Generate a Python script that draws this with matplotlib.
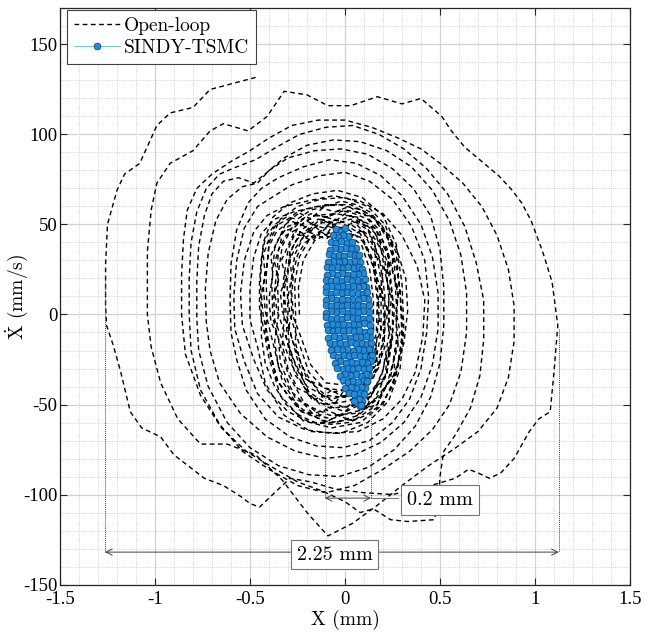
import matplotlib
matplotlib.use("Agg")
import matplotlib.pyplot as plt
from matplotlib.ticker import MultipleLocator

plt.rcParams["mathtext.fontset"] = "cm"
plt.rcParams["axes.unicode_minus"] = False

# Open-loop phase trajectory (X in mm, Xdot in mm/s), one ring per line,
# clockwise, growing from the noisy inner band out to the last wide swing.
OPEN_LOOP = [
    (-0.24, 0), (-0.245, 15), (-0.22, 30), (-0.16, 41), (-0.07, 46), (0.02, 45), (0.09, 38), (0.13, 25), (0.15, 8), (0.15, -9), (0.12, -23), (0.06, -33), (-0.02, -39), (-0.1, -38), (-0.18, -28), (-0.23, -13),
    (-0.27, -2), (-0.28, 11), (-0.27, 24), (-0.25, 33), (-0.21, 40), (-0.15, 44), (-0.1, 42), (-0.04, 46), (0.02, 45), (0.08, 43), (0.12, 36), (0.15, 27), (0.17, 15), (0.18, 2), (0.17, -11), (0.16, -22), (0.12, -31), (0.07, -37), (0.01, -42), (-0.06, -43), (-0.12, -40), (-0.18, -37), (-0.23, -28), (-0.26, -16),
    (-0.26, 1), (-0.265, 17), (-0.24, 32), (-0.18, 43), (-0.09, 49), (0.01, 48), (0.1, 40), (0.15, 26), (0.17, 8), (0.165, -10), (0.13, -26), (0.07, -37), (-0.02, -42), (-0.11, -41), (-0.19, -32), (-0.245, -15),
    (-0.29, 0), (-0.3, 10), (-0.28, 21), (-0.29, 31), (-0.26, 37), (-0.22, 43), (-0.17, 41), (-0.13, 46), (-0.07, 42), (-0.02, 48), (0.04, 44), (0.09, 47), (0.13, 39), (0.16, 33), (0.16, 22), (0.19, 14), (0.17, 3), (0.19, -8), (0.16, -17), (0.17, -27), (0.13, -33), (0.09, -41), (0.04, -40), (-0.01, -46), (-0.07, -42), (-0.12, -46), (-0.17, -38), (-0.22, -35), (-0.25, -25), (-0.28, -13),
    (-0.31, 1), (-0.32, 13), (-0.3, 26), (-0.29, 35), (-0.25, 42), (-0.2, 46), (-0.14, 44), (-0.09, 49), (-0.03, 47), (0.03, 50), (0.09, 46), (0.14, 40), (0.17, 31), (0.19, 19), (0.2, 6), (0.21, -7), (0.19, -19), (0.17, -29), (0.12, -37), (0.06, -43), (0.0, -45), (-0.07, -47), (-0.13, -44), (-0.2, -40), (-0.25, -31), (-0.29, -20), (-0.3, -8),
    (-0.28, -1), (-0.285, 16), (-0.265, 33), (-0.21, 45), (-0.12, 51), (-0.02, 51), (0.08, 45), (0.15, 30), (0.19, 10), (0.19, -10), (0.16, -27), (0.09, -40), (0.0, -46), (-0.1, -45), (-0.2, -36), (-0.26, -19),
    (-0.33, 2), (-0.34, 12), (-0.31, 20), (-0.335, 30), (-0.3, 38), (-0.27, 45), (-0.2, 43), (-0.16, 49), (-0.1, 44), (-0.06, 50), (0.0, 47), (0.04, 52), (0.1, 46), (0.15, 42), (0.17, 33), (0.2, 26), (0.19, 14), (0.22, 4), (0.2, -6), (0.21, -18), (0.18, -27), (0.15, -35), (0.1, -38), (0.06, -45), (-0.01, -43), (-0.05, -49), (-0.12, -45), (-0.17, -48), (-0.22, -39), (-0.26, -34), (-0.29, -22), (-0.31, -12),
    (-0.3, 1), (-0.305, 19), (-0.285, 35), (-0.23, 47), (-0.14, 53), (-0.06, 50), (0.03, 53), (0.12, 47), (0.18, 32), (0.21, 11), (0.21, -11), (0.18, -29), (0.11, -42), (0.02, -48), (-0.09, -50), (-0.19, -43), (-0.27, -25),
    (-0.36, 3), (-0.37, 14), (-0.355, 27), (-0.35, 36), (-0.31, 44), (-0.26, 47), (-0.22, 45), (-0.17, 50), (-0.11, 48), (-0.05, 53), (0.02, 50), (0.08, 52), (0.14, 45), (0.19, 36), (0.21, 24), (0.235, 12), (0.22, -2), (0.24, -14), (0.21, -26), (0.19, -35), (0.13, -44), (0.07, -47), (0.0, -52), (-0.06, -49), (-0.13, -50), (-0.19, -44), (-0.25, -41), (-0.3, -30), (-0.33, -17),
    (-0.32, -1), (-0.325, 18), (-0.3, 36), (-0.25, 48), (-0.16, 55), (-0.05, 56), (0.07, 54), (0.16, 45), (0.21, 30), (0.23, 10), (0.23, -12), (0.2, -31), (0.14, -45), (0.04, -51), (-0.08, -52), (-0.19, -45), (-0.28, -28),
    (-0.37, -3), (-0.375, 10), (-0.35, 19), (-0.37, 29), (-0.34, 39), (-0.33, 46), (-0.27, 48), (-0.22, 53), (-0.15, 49), (-0.1, 54), (-0.03, 52), (0.03, 55), (0.09, 50), (0.16, 48), (0.19, 40), (0.23, 33), (0.22, 20), (0.245, 9), (0.23, -3), (0.25, -13), (0.22, -25), (0.21, -36), (0.15, -42), (0.12, -50), (0.04, -50), (0.0, -54), (-0.08, -51), (-0.13, -56), (-0.2, -50), (-0.26, -47), (-0.3, -37), (-0.34, -27), (-0.35, -13),
    (-0.39, -4), (-0.4, 9), (-0.38, 22), (-0.39, 33), (-0.35, 42), (-0.3, 49), (-0.24, 51), (-0.19, 47), (-0.13, 53), (-0.06, 51), (0.0, 56), (0.07, 53), (0.13, 50), (0.18, 41), (0.22, 30), (0.24, 16), (0.26, 3), (0.25, -11), (0.23, -22), (0.22, -33), (0.16, -41), (0.11, -49), (0.04, -52), (-0.03, -56), (-0.1, -53), (-0.17, -55), (-0.24, -47), (-0.29, -42), (-0.35, -29), (-0.37, -15),
    (-0.35, 0), (-0.355, 20), (-0.33, 38), (-0.27, 50), (-0.18, 56), (-0.1, 54), (0.0, 58), (0.1, 56), (0.18, 47), (0.23, 31), (0.25, 10), (0.25, -13), (0.22, -33), (0.15, -48), (0.05, -55), (-0.08, -56), (-0.21, -50), (-0.3, -33),
    (-0.38, -2), (-0.385, 18), (-0.37, 37), (-0.31, 51), (-0.22, 58), (-0.1, 61), (0.03, 61), (0.14, 55), (0.22, 44), (0.26, 28), (0.27, 6), (0.27, -15), (0.24, -35), (0.17, -50), (0.06, -58), (-0.08, -60), (-0.23, -54), (-0.33, -37),
    (-0.42, 2), (-0.43, 16), (-0.41, 28), (-0.4, 38), (-0.36, 46), (-0.29, 52), (-0.23, 50), (-0.16, 55), (-0.09, 54), (-0.03, 58), (0.05, 56), (0.12, 53), (0.17, 46), (0.22, 37), (0.25, 24), (0.28, 11), (0.27, -3), (0.28, -17), (0.25, -28), (0.22, -39), (0.16, -47), (0.09, -53), (0.01, -55), (-0.07, -58), (-0.15, -56), (-0.22, -53), (-0.29, -46), (-0.35, -38), (-0.39, -24), (-0.41, -10),
    (-0.43, -1), (-0.44, 11), (-0.42, 22), (-0.43, 33), (-0.4, 42), (-0.37, 49), (-0.3, 53), (-0.25, 57), (-0.18, 53), (-0.12, 59), (-0.05, 57), (0.02, 60), (0.08, 56), (0.15, 54), (0.2, 46), (0.25, 38), (0.25, 25), (0.28, 14), (0.27, 1), (0.29, -10), (0.26, -22), (0.26, -34), (0.2, -42), (0.17, -50), (0.09, -53), (0.04, -59), (-0.04, -56), (-0.1, -60), (-0.17, -56), (-0.24, -53), (-0.3, -45), (-0.36, -36), (-0.39, -22), (-0.42, -10),
    (-0.41, 0), (-0.415, 21), (-0.4, 40), (-0.34, 53), (-0.25, 60), (-0.13, 64), (0.0, 65), (0.12, 60), (0.21, 50), (0.27, 34), (0.29, 12), (0.3, -12), (0.27, -33), (0.2, -50), (0.08, -60), (-0.07, -63), (-0.22, -59), (-0.34, -45), (-0.4, -24),
    (-0.45, 4), (-0.45, 18), (-0.44, 31), (-0.42, 42), (-0.37, 50), (-0.31, 54), (-0.25, 53), (-0.18, 58), (-0.1, 60), (-0.02, 63), (0.06, 61), (0.13, 57), (0.19, 50), (0.24, 40), (0.27, 27), (0.29, 13), (0.3, -1), (0.3, -15), (0.28, -28), (0.25, -40), (0.19, -50), (0.11, -56), (0.02, -60), (-0.07, -61), (-0.16, -60), (-0.24, -56), (-0.31, -50), (-0.37, -40), (-0.42, -27), (-0.44, -12),
    (-0.44, -2), (-0.445, 20), (-0.43, 40), (-0.38, 54), (-0.29, 62), (-0.17, 67), (-0.04, 69), (0.09, 65), (0.2, 55), (0.27, 39), (0.3, 17), (0.31, -8), (0.29, -30), (0.23, -48), (0.12, -60), (-0.02, -66), (-0.18, -65), (-0.32, -56), (-0.42, -38), (-0.46, -18),
    (-0.5, -3), (-0.5, 15), (-0.48, 32), (-0.44, 45), (-0.37, 53), (-0.27, 57), (-0.15, 60), (-0.03, 61), (0.09, 58), (0.19, 50), (0.27, 37), (0.32, 20), (0.33, 2), (0.31, -16), (0.26, -33), (0.18, -46), (0.07, -56), (-0.05, -60), (-0.18, -60), (-0.3, -54), (-0.41, -42), (-0.48, -25),
    (-0.54, -6), (-0.55, 12), (-0.53, 30), (-0.48, 46), (-0.41, 55), (-0.32, 60), (-0.2, 63), (-0.06, 66), (0.08, 63), (0.2, 56), (0.3, 44), (0.38, 27), (0.42, 8), (0.41, -12), (0.37, -32), (0.3, -47), (0.2, -58), (0.07, -65), (-0.07, -66), (-0.21, -64), (-0.35, -57), (-0.46, -44), (-0.53, -26),
    (-0.58, -8), (-0.585, 10), (-0.57, 30), (-0.53, 48), (-0.46, 60), (-0.37, 66), (-0.28, 72), (-0.14, 77), (0.0, 79), (0.13, 74), (0.25, 64), (0.35, 49), (0.42, 30), (0.44, 10), (0.43, -10), (0.4, -30), (0.34, -47), (0.25, -60), (0.13, -70), (-0.01, -74), (-0.15, -73), (-0.29, -68), (-0.42, -58), (-0.52, -42), (-0.57, -25),
    (-0.6, -10), (-0.605, 8), (-0.6, 28), (-0.57, 47), (-0.51, 62), (-0.44, 70), (-0.35, 76), (-0.22, 82), (-0.08, 86), (0.06, 84), (0.19, 77), (0.3, 66), (0.4, 50), (0.46, 32), (0.49, 12), (0.49, -8), (0.46, -28), (0.4, -46), (0.31, -60), (0.19, -71), (0.05, -78), (-0.1, -80), (-0.26, -76), (-0.41, -68), (-0.55, -55), (-0.66, -38), (-0.71, -20),
    (-0.73, -4), (-0.735, 14), (-0.72, 34), (-0.68, 52), (-0.62, 64), (-0.54, 71), (-0.46, 73), (-0.4, 80), (-0.3, 87), (-0.16, 91), (-0.02, 92), (0.12, 89), (0.25, 81), (0.36, 70), (0.45, 55), (0.5, 36), (0.52, 15), (0.52, -6), (0.5, -27), (0.45, -46), (0.37, -62), (0.26, -75), (0.12, -85), (-0.03, -90), (-0.19, -89), (-0.35, -84), (-0.5, -74), (-0.62, -60), (-0.72, -40), (-0.77, -20),
    (-0.78, -2), (-0.78, 18), (-0.77, 38), (-0.74, 55), (-0.7, 67), (-0.64, 74), (-0.56, 76), (-0.48, 73), (-0.41, 79), (-0.32, 87), (-0.2, 94), (-0.06, 97), (0.08, 96), (0.22, 91), (0.35, 82), (0.46, 69), (0.55, 52), (0.61, 33), (0.64, 12), (0.64, -10), (0.61, -32), (0.55, -50), (0.46, -64), (0.34, -76), (0.2, -86), (0.05, -95), (-0.1, -99), (-0.25, -95), (-0.4, -86), (-0.54, -76), (-0.66, -61), (-0.76, -42), (-0.81, -20),
    (-0.82, 0), (-0.82, 20), (-0.81, 40), (-0.78, 57), (-0.73, 70), (-0.66, 78), (-0.57, 82), (-0.47, 86), (-0.36, 93), (-0.24, 100), (-0.1, 104), (0.04, 105), (0.18, 100), (0.31, 92), (0.43, 81), (0.54, 67), (0.63, 49), (0.69, 29), (0.73, 8), (0.73, -14), (0.71, -34), (0.66, -52), (0.58, -67), (0.52, -76), (0.5, -90), (0.49, -106), (0.47, -114), (0.33, -115), (0.24, -114), (0.15, -108), (0.08, -110), (0.0, -104), (-0.12, -98), (-0.25, -93), (-0.38, -85), (-0.52, -76), (-0.65, -63), (-0.76, -45), (-0.84, -22),
    (-0.86, 0), (-0.86, 22), (-0.85, 42), (-0.83, 58), (-0.78, 70), (-0.7, 78), (-0.6, 85), (-0.5, 91), (-0.4, 98), (-0.28, 105), (-0.14, 108), (0.0, 108), (0.14, 104), (0.28, 98), (0.4, 92), (0.5, 84), (0.62, 73), (0.72, 60), (0.8, 44), (0.86, 25), (0.89, 5), (0.89, -15), (0.86, -35), (0.8, -52), (0.7, -65), (0.57, -75), (0.44, -84), (0.3, -95), (0.17, -106), (0.04, -116), (-0.09, -123), (-0.2, -110), (-0.33, -92), (-0.47, -78), (-0.62, -72), (-0.76, -72), (-0.88, -58), (-0.97, -38), (-1.02, -18),
    (-1.04, 0), (-1.04, 35), (-1.02, 58), (-0.99, 73), (-0.92, 84), (-0.8, 91), (-0.71, 102), (-0.64, 106), (-0.51, 102), (-0.41, 110), (-0.32, 124), (-0.2, 122), (-0.09, 116), (0.03, 116), (0.17, 121), (0.3, 117), (0.4, 120), (0.51, 110), (0.56, 102), (0.63, 93), (0.72, 85), (0.81, 77), (0.88, 69), (0.93, 62), (0.98, 52), (1.04, 35), (1.09, 18), (1.12, -6), (1.1, -32), (1.08, -54), (1.02, -58), (0.97, -65), (0.89, -80), (0.82, -88), (0.76, -91), (0.7, -88), (0.65, -86), (0.58, -91), (0.42, -96), (0.25, -100), (0.1, -99), (-0.05, -97), (-0.18, -93), (-0.29, -91), (-0.38, -100), (-0.45, -107), (-0.5, -105), (-0.55, -101), (-0.64, -95), (-0.74, -91), (-0.9, -78), (-0.97, -68), (-1.07, -63), (-1.13, -54), (-1.18, -32), (-1.22, -17), (-1.255, -6),
    (-1.26, 5), (-1.26, 28), (-1.25, 50), (-1.2, 69), (-1.16, 78), (-1.08, 84), (-0.99, 105), (-0.92, 112), (-0.8, 115), (-0.71, 125), (-0.46, 132),
]

# Controlled (SINDY-TSMC) samples, packed in a narrow tilted band.
SINDY_TSMC = [
    (-0.046, 47.3), (-0.021, 46.6), (0.001, 47.8),
    (0.018, 43.4), (-0.01, 44.2), (-0.037, 43.1), (-0.062, 43.9),
    (-0.073, 40.4), (-0.047, 39.6), (-0.019, 40.7), (0.009, 39.8), (0.036, 40.3),
    (0.057, 36.8), (0.03, 36.2), (0.002, 37.0), (-0.026, 36.3), (-0.054, 36.9), (-0.08, 36.1),
    (-0.085, 33.4), (-0.059, 32.6), (-0.031, 33.3), (-0.003, 32.7), (0.025, 33.5), (0.052, 32.8), (0.072, 33.2),
    (0.078, 29.3), (0.05, 29.7), (0.022, 29.0), (-0.006, 29.8), (-0.034, 29.2), (-0.062, 29.9), (-0.089, 29.1),
    (-0.093, 26.4), (-0.067, 25.7), (-0.039, 26.3), (-0.011, 25.6), (0.017, 26.5), (0.045, 25.8), (0.073, 26.2), (0.089, 25.5),
    (0.096, 22.9), (0.069, 22.3), (0.041, 22.7), (0.013, 22.0), (-0.015, 22.8), (-0.043, 22.2), (-0.07, 22.9), (-0.097, 22.1),
    (-0.099, 19.4), (-0.073, 18.6), (-0.045, 19.3), (-0.017, 18.7), (0.011, 19.5), (0.039, 18.8), (0.067, 19.2), (0.094, 18.5), (0.104, 19.6),
    (0.109, 15.2), (0.096, 15.9), (0.068, 15.3), (0.04, 15.7), (0.012, 15.0), (-0.016, 15.8), (-0.044, 15.2), (-0.072, 15.9), (-0.1, 15.1),
    (-0.1, 12.4), (-0.073, 11.6), (-0.045, 12.3), (-0.017, 11.7), (0.011, 12.5), (0.039, 11.8), (0.067, 12.2), (0.095, 11.5), (0.116, 12.3),
    (0.12, 8.4), (0.094, 8.9), (0.066, 8.3), (0.038, 8.7), (0.01, 8.0), (-0.018, 8.8), (-0.046, 8.2), (-0.074, 8.9), (-0.101, 8.1),
    (-0.1, 5.4), (-0.072, 4.6), (-0.044, 5.3), (-0.016, 4.7), (0.012, 5.5), (0.04, 4.8), (0.068, 5.2), (0.096, 4.5), (0.124, 5.1),
    (0.128, 1.4), (0.095, 1.9), (0.067, 1.3), (0.039, 1.7), (0.011, 1.0), (-0.017, 1.8), (-0.045, 1.2), (-0.073, 1.9), (-0.1, 1.1),
    (-0.1, -1.6), (-0.072, -2.4), (-0.044, -1.7), (-0.016, -2.3), (0.012, -1.5), (0.04, -2.2), (0.068, -1.8), (0.096, -2.5), (0.129, -1.9),
    (0.131, -5.6), (0.099, -5.0), (0.071, -5.7), (0.043, -5.3), (0.015, -6.0), (-0.013, -5.2), (-0.041, -5.8), (-0.069, -5.1), (-0.097, -5.9),
    (-0.092, -8.6), (-0.064, -9.4), (-0.036, -8.7), (-0.008, -9.3), (0.02, -8.5), (0.048, -9.2), (0.076, -8.8), (0.104, -9.5), (0.133, -8.9),
    (0.134, -12.6), (0.109, -12.0), (0.081, -12.7), (0.053, -12.3), (0.025, -13.0), (-0.003, -12.2), (-0.031, -12.8), (-0.059, -12.1), (-0.087, -12.9),
    (-0.08, -15.6), (-0.052, -16.4), (-0.024, -15.7), (0.004, -16.3), (0.032, -15.5), (0.06, -16.2), (0.088, -15.8), (0.116, -16.5), (0.137, -15.9),
    (0.139, -19.6), (0.124, -19.0), (0.096, -19.7), (0.068, -19.3), (0.04, -20.0), (0.012, -19.2), (-0.016, -19.8), (-0.044, -19.1), (-0.072, -19.9),
    (-0.063, -22.6), (-0.035, -23.4), (-0.007, -22.7), (0.021, -23.3), (0.049, -22.5), (0.077, -23.2), (0.105, -22.8), (0.133, -23.5), (0.14, -22.4),
    (0.136, -26.0), (0.115, -26.7), (0.087, -26.3), (0.059, -27.0), (0.031, -26.2), (0.003, -26.8), (-0.025, -26.1), (-0.053, -26.9),
    (-0.041, -29.6), (-0.013, -30.4), (0.015, -29.7), (0.043, -30.3), (0.071, -29.5), (0.099, -30.2), (0.127, -29.8),
    (0.124, -33.7), (0.113, -33.3), (0.085, -34.0), (0.057, -33.2), (0.029, -33.8), (0.001, -33.1), (-0.027, -33.9),
    (-0.013, -36.6), (0.015, -37.4), (0.043, -36.7), (0.071, -37.3), (0.099, -36.5), (0.116, -37.2),
    (0.107, -41.0), (0.086, -40.2), (0.058, -40.8), (0.03, -40.1), (0.002, -40.9),
    (0.021, -43.6), (0.049, -44.4), (0.077, -43.7), (0.099, -44.3),
    (0.091, -47.8), (0.072, -47.1), (0.047, -47.9),
    (0.078, -50.8), (0.084, -50.1),
]

X_TICKS = [-1.5, -1, -0.5, 0, 0.5, 1, 1.5]
X_TICK_LABELS = ["-1.5", "-1", "-0.5", "0", "0.5", "1", "1.5"]
Y_TICKS = [-150, -100, -50, 0, 50, 100, 150]
Y_TICK_LABELS = ["-150", "-100", "-50", "0", "50", "100", "150"]

# Span markers: (left X, right X, label)
WIDE_SPAN = (-1.263, 1.125, "2.25 mm")
NARROW_SPAN = (-0.106, 0.137, "0.2 mm")

TICK_FONT = "Liberation Serif"
TEXT_FONT = "cmr10"
DIM_COLOR = "0.25"

fig = plt.figure(figsize=(6.54, 6.33), dpi=100)
ax = fig.add_axes([0.0917, 0.0766, 0.8716, 0.91])

ox = [p[0] for p in OPEN_LOOP]
oy = [p[1] for p in OPEN_LOOP]
ax.plot(ox, oy, color="k", lw=1.0, dashes=(3.4, 2.5), label="Open-loop", zorder=3)

cx = [p[0] for p in SINDY_TSMC]
cy = [p[1] for p in SINDY_TSMC]
ax.plot(cx, cy, "-o", color="#62bdf2", lw=0.6, ms=4.9, mfc="#1b8ee0",
        mec="#0d3a66", mew=0.5, label="SINDY-TSMC", zorder=4)

# wide span: dotted extension lines down to a double arrow
x0, x1, wide_text = WIDE_SPAN
ax.plot([x0, x0], [22, -132], color=DIM_COLOR, lw=0.7, ls=(0, (1, 1)), zorder=5)
ax.plot([x1, x1], [-8, -132], color=DIM_COLOR, lw=0.7, ls=(0, (1, 1)), zorder=5)
ax.annotate("", xy=(x1, -132), xytext=(x0, -132),
            arrowprops=dict(arrowstyle="<->", color=DIM_COLOR, lw=0.7,
                            shrinkA=0, shrinkB=0, mutation_scale=11), zorder=5)
ax.text(-0.053, -133.5, wide_text, ha="center", va="center", family=TEXT_FONT,
        fontsize=14.5, zorder=6,
        bbox=dict(boxstyle="square,pad=0.28", fc="white", ec="0.45", lw=0.8))

# narrow span across the controlled band
n0, n1, narrow_text = NARROW_SPAN
ax.plot([n0, n0], [-42, -102], color=DIM_COLOR, lw=0.7, ls=(0, (1, 1)), zorder=5)
ax.plot([n1, n1], [-50, -102], color=DIM_COLOR, lw=0.7, ls=(0, (1, 1)), zorder=5)
ax.annotate("", xy=(n1, -102), xytext=(n0, -102),
            arrowprops=dict(arrowstyle="<->", color=DIM_COLOR, lw=0.7,
                            shrinkA=0, shrinkB=0, mutation_scale=11), zorder=5)
ax.plot([n1, 0.28], [-102, -102], color="0.45", lw=0.7, zorder=5)
ax.text(0.5, -103, narrow_text, ha="center", va="center", family=TEXT_FONT,
        fontsize=14.5, zorder=6,
        bbox=dict(boxstyle="square,pad=0.28", fc="white", ec="0.45", lw=0.8))

ax.set_xlim(-1.5, 1.5)
ax.set_ylim(-150, 170)
ax.set_xticks(X_TICKS)
ax.set_xticklabels(X_TICK_LABELS, family=TICK_FONT, fontsize=13.5)
ax.set_yticks(Y_TICKS)
ax.set_yticklabels(Y_TICK_LABELS, family=TICK_FONT, fontsize=13.5)
ax.xaxis.set_minor_locator(MultipleLocator(0.1))
ax.yaxis.set_minor_locator(MultipleLocator(10))
ax.tick_params(which="major", direction="in", length=5, width=0.8,
               top=True, right=True, color="0.15")
ax.tick_params(axis="x", pad=5)
ax.tick_params(axis="y", pad=2)
ax.tick_params(which="minor", length=0)
ax.grid(which="major", color="#d2d2d2", lw=0.9, ls="-")
ax.grid(which="minor", color="#c4c4c4", lw=0.6, ls=(0, (1, 1.6)))
ax.set_axisbelow(True)
for s in ax.spines.values():
    s.set_linewidth(0.9)
    s.set_color("0.15")

ax.set_xlabel("X (mm)", family=TEXT_FONT, fontsize=14, labelpad=1)
ax.set_ylabel(r"$\dot{\mathrm{X}}$ (mm/s)", family=TEXT_FONT, fontsize=14)
ax.yaxis.set_label_coords(-0.052, 0.5)

leg = ax.legend(loc="upper left", bbox_to_anchor=(0.012, 0.997), borderaxespad=0,
                prop={"family": TEXT_FONT, "size": 14}, fancybox=False,
                edgecolor="0.25", framealpha=1, handlelength=2.4,
                handletextpad=0.2, borderpad=0.35, labelspacing=0.2)
leg.get_frame().set_linewidth(0.8)
leg.set_zorder(10)

fig.savefig("out.png", dpi=100)
